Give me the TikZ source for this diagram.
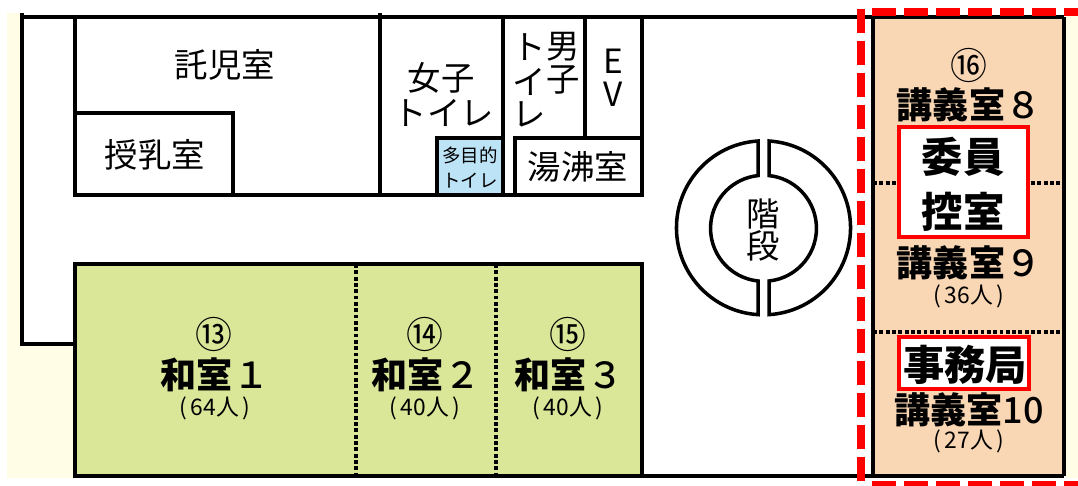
\documentclass[tikz,border=0pt]{standalone}
\usepackage{fontspec}
\setmainfont{Noto Sans CJK JP}
\newfontfamily\digitfont{Noto Sans CJK JP Medium}
\newfontfamily\heavyfont{Noto Sans CJK JP Black}
\definecolor{creamc}{HTML}{FFFDE6}
\definecolor{greenc}{HTML}{DAE698}
\definecolor{peachc}{HTML}{F9D6B4}
\definecolor{bluec}{HTML}{BDE3F7}
\begin{document}
\begin{tikzpicture}[x=0.02cm,y=0.02cm]
\tikzstyle{every node}+=[inner sep=0pt]
\tikzstyle{wall}=[black,line width=2.2pt]
\tikzstyle{thinwall}=[black,line width=2pt]
\tikzstyle{partition}=[black,line width=2.2pt,dash pattern=on 2.2pt off 1.4pt]
\tikzstyle{zone}=[red,line width=4.6pt,dash pattern=on 13.6pt off 4.6pt]
\tikzstyle{redbox}=[red,fill=white,line width=2.4pt]
\tikzstyle{small}=[font=\fontsize{13}{14}\selectfont]
\tikzstyle{tiny}=[font=\fontsize{10.5}{12}\selectfont]
\tikzstyle{room}=[font=\fontsize{19}{21}\selectfont]
\tikzstyle{num}=[font=\fontsize{21}{22}\selectfont]
\tikzstyle{bold}=[font=\fontsize{20.5}{22}\selectfont\bfseries]
\tikzstyle{huge}=[font=\fontsize{23.5}{26}\selectfont\heavyfont]
\useasboundingbox (0,0) rectangle (1078,-486);
% outside
\fill [creamc] (7,-13) rectangle (22,-346);
\fill [creamc] (7,-346) rectangle (75,-478);
\fill [creamc] (1066,-15) rectangle (1078,-478);
% rooms
\fill [greenc] (75,-264) rectangle (642,-476);
\fill [peachc] (873,-17) rectangle (1064,-476);
\fill [bluec] (437,-138) rectangle (503,-195);
% walls
\draw [wall] (22,-17) -- (1064,-17);
\draw [wall] (22,-13) -- (22,-344) -- (75,-344);
\draw [wall] (75,-17) -- (75,-195) -- (642,-195) -- (642,-17);
\draw [wall] (75,-113) -- (233,-113) -- (233,-195);
\draw [wall] (380,-13) -- (380,-195);
\draw [wall] (503,-17) -- (503,-195);
\draw [wall] (437,-195) -- (437,-138) -- (503,-138);
\draw [wall] (515,-195) -- (515,-138) -- (642,-138);
\draw [wall] (585,-17) -- (585,-138);
\draw [wall] (75,-264) rectangle (642,-476);
\draw [wall] (642,-476) -- (1064,-476);
\draw [wall] (873,-17) -- (873,-476);
\draw [wall] (1064,-17) -- (1064,-476);
% folding walls
\draw [partition] (356,-264) -- (356,-476);
\draw [partition] (496,-264) -- (496,-476);
\draw [partition] (873,-183) -- (1064,-183);
\draw [partition] (873,-332) -- (1064,-332);
% stairs
\draw [thinwall] (758,-141) arc (93.6:266.4:87) -- (758,-281) arc (264:96:53) -- cycle;
\draw [thinwall] (769,-141) arc (86.4:-86.4:87) -- (769,-281) arc (-84:84:53) -- cycle;
% office boxes
\draw [redbox] (899,-127) rectangle (1028,-237);
\draw [redbox] (899,-337) rectangle (1029,-389);
% selected area
\draw [zone] (861,-9) -- (861,-486);
\draw [zone] (872,-12) -- (1078,-12);
\draw [zone] (872,-485) -- (1078,-485);
% labels
\draw (225,-65) node [room] (takuji) {託児室};
\draw (155,-155) node [room] (junyu) {授乳室};
\draw (441,-78) node [room] (joshi) {女子};
\draw (444,-113) node [room] (joshitoilet) {トイレ};
\draw (470,-155) node [tiny] (tamokuteki) {多目的};
\draw (470,-181) node [tiny] (tamokutoilet) {トイレ};
\draw (578,-167) node [room] (yuwakashi) {湯沸室};
\draw (563,-47) node [room] (otoko) {男};
\draw (563,-80) node [room] (ko) {子};
\draw (529,-47) node [room] (to) {ト};
\draw (529,-82) node [room] (i) {イ};
\draw (529,-114) node [room] (re) {レ};
\draw (613,-61) node [room] (eve) {E};
\draw (613,-94) node [room] (vee) {V};
\draw (763,-214) node [room] (kai) {階};
\draw (763,-246) node [room] (dan) {段};
\draw (214,-334) node [num] (num13) {⑬};
\draw (215,-375) node [bold] (washitsu1) {和室{\digitfont\mdseries １}};
\draw (215,-408) node [small] (cap1) {(\kern2pt 64人\kern2pt )};
\draw (425,-334) node [num] (num14) {⑭};
\draw (426,-375) node [bold] (washitsu2) {和室{\digitfont\mdseries ２}};
\draw (425,-408) node [small] (cap2) {(\kern2pt 40人\kern2pt )};
\draw (568,-334) node [num] (num15) {⑮};
\draw (569,-375) node [bold] (washitsu3) {和室{\digitfont\mdseries ３}};
\draw (568,-408) node [small] (cap3) {(\kern2pt 40人\kern2pt )};
\draw (969,-65) node [num] (num16) {⑯};
\draw (969,-105) node [bold] (kogi8) {講義室{\digitfont\mdseries ８}};
\draw (963,-157) node [huge] (iin) {委員};
\draw (963,-212) node [huge] (hikae) {控室};
\draw (969,-263) node [bold] (kogi9) {講義室{\digitfont\mdseries ９}};
\draw (969,-296) node [small] (cap9) {(\kern2pt 36人\kern2pt )};
\draw (965,-365) node [huge] (jimu) {事務局};
\draw (969,-410) node [bold] (kogi10) {講義室{\digitfont\mdseries 10}};
\draw (969,-441) node [small] (cap10) {(\kern2pt 27人\kern2pt )};
\end{tikzpicture}
\end{document}
